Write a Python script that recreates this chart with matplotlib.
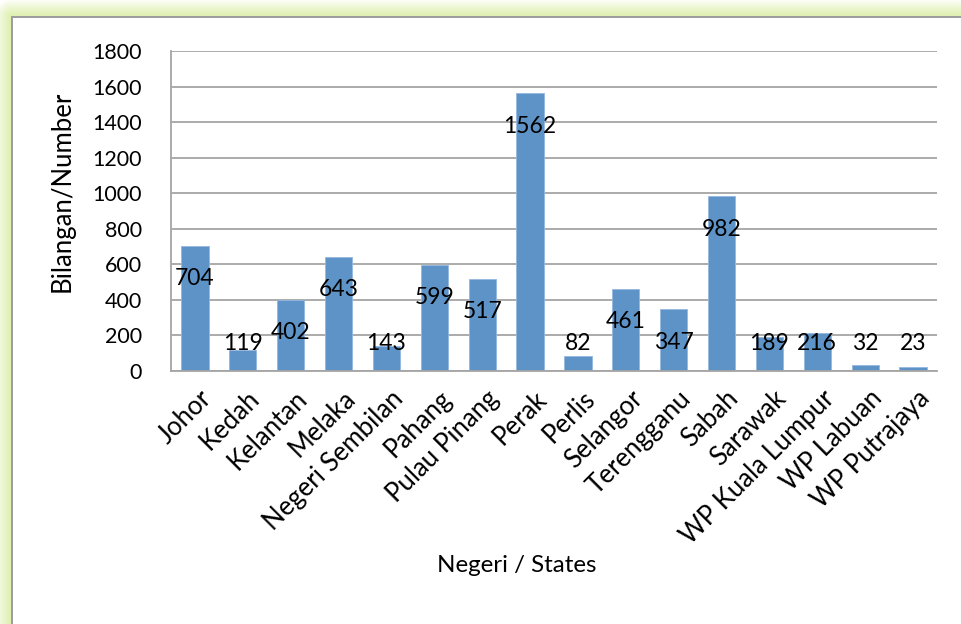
import matplotlib
matplotlib.use("Agg")
import matplotlib.pyplot as plt
import matplotlib.transforms as mtransforms
import numpy as np

# ---- data ----
states = ["Johor", "Kedah", "Kelantan", "Melaka", "Negeri Sembilan", "Pahang",
          "Pulau Pinang", "Perak", "Perlis", "Selangor", "Terengganu", "Sabah",
          "Sarawak", "WP Kuala Lumpur", "WP Labuan", "WP Putrajaya"]
counts = [704, 119, 402, 643, 143, 599, 517, 1562, 82, 461, 347, 982, 189, 216, 32, 23]
y_ticks = [0, 200, 400, 600, 800, 1000, 1200, 1400, 1600, 1800]
y_label = "Bilangan/Number"
x_label = "Negeri / States"

plt.rcParams['font.family'] = ['Lato', 'DejaVu Sans']

W, H = 962, 624
fig = plt.figure(figsize=(W / 100, H / 100), dpi=100)

# ---- background frame with green glow ----
x0, y0 = 11, 16
yy, xx = np.mgrid[0:H, 0:W]
dx = np.clip(x0 - xx, 0, None)
dy = np.clip(y0 - yy, 0, None)
d = np.sqrt(dx ** 2 + dy ** 2)
a = np.clip(1 - d / 17.0, 0, 1) ** 0.8
green = np.array([0.87, 0.94, 0.68])
img = np.ones((H, W, 3))
outside = (xx < x0) | (yy < y0)
img[outside] = (1 - a[outside, None]) + a[outside, None] * green
gray = np.array([0.62, 0.62, 0.62])
img[y0:, x0:x0 + 2] = gray
img[y0:y0 + 2, x0:] = gray
bg = fig.add_axes([0, 0, 1, 1], zorder=-10)
bg.imshow(img, aspect='auto', interpolation='nearest')
bg.set_axis_off()

# ---- axes ----
left, right, top, bottom = 171, 937, 51, 371
ax = fig.add_axes([left / W, 1 - bottom / H, (right - left) / W, (bottom - top) / H], zorder=1)
ax.set_facecolor('white')
x = np.arange(len(states))
ax.bar(x, counts, width=0.57, color='#5E93C8', edgecolor='#94b8e0', linewidth=0.6, zorder=2)
ax.set_xlim(-0.5, len(states) - 0.5)
ax.set_ylim(0, 1800)
ax.set_yticks(y_ticks)
ax.yaxis.grid(True, color='#a5a5a5', linewidth=1.3)
ax.set_axisbelow(True)
for s in ['top', 'right']:
    ax.spines[s].set_visible(False)
for s in ['left', 'bottom']:
    ax.spines[s].set_color('#a5a5a5')
    ax.spines[s].set_linewidth(1.3)
ax.tick_params(axis='y', length=0, labelsize=15.5, pad=21)
ax.tick_params(axis='x', length=0, labelsize=18.5, pad=17)
ax.set_xticks(x)
ax.set_xticklabels(states, rotation=45, ha='right', va='center', rotation_mode='anchor')
shift = mtransforms.ScaledTranslation(13 / 100, 0, fig.dpi_scale_trans)
for lbl in ax.get_xticklabels():
    lbl.set_transform(lbl.get_transform() + shift)

for i, v in enumerate(counts):
    ax.text(i, max(v - 185, 157), str(v), ha='center', va='center', fontsize=16.5, zorder=3)

fig.text(62 / W, 1 - 191 / H, y_label, rotation=90, ha='center', va='center', fontsize=18.5)
fig.text(517 / W, 1 - 565 / H, x_label, ha='center', va='center', fontsize=17.4)

fig.savefig("out.png", dpi=100)
